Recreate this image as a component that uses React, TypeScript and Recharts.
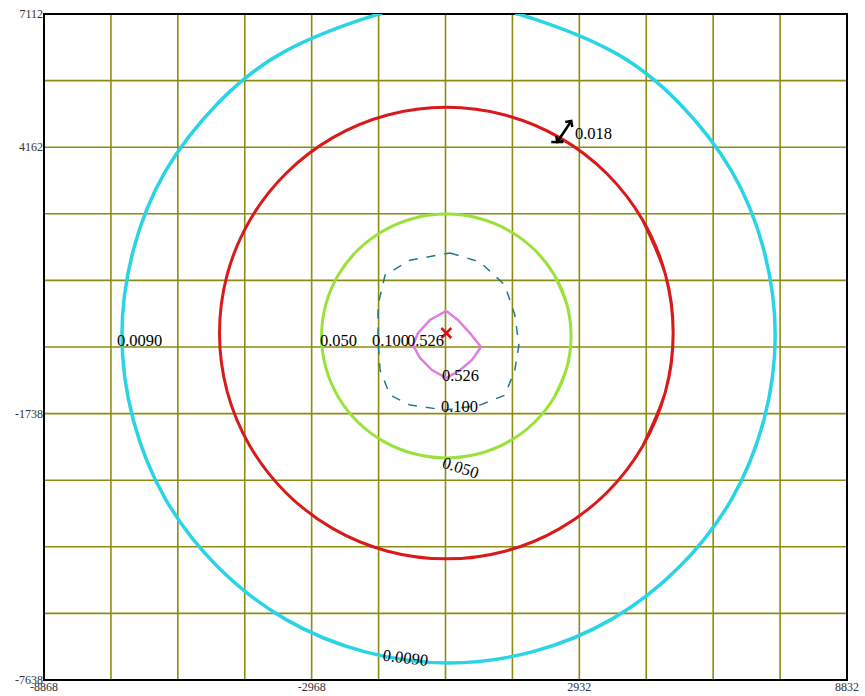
import React from 'react';
import { ComposedChart, Scatter, Line, XAxis, YAxis, CartesianGrid, ReferenceArea } from 'recharts';

// axis ticks (grid every 1475 units)
const xTicks = [-8868, -7393, -5918, -4443, -2968, -1493, -18, 1457, 2932, 4407, 5882, 7357, 8832];
const xLabeled = [-8868, -2968, 2932, 8832];
const yTicks = [-7638, -6163, -4688, -3213, -1738, -263, 1212, 2687, 4162, 5637, 7112];
const yLabeled = [7112, 4162, -1738, -7638];

// contour 0.0090 (open at the top edge)
const cyanContour = [
  { x: -1400, y: 7112 }, { x: -1810, y: 7010 }, { x: -3550, y: 6290 }, { x: -5040, y: 5130 },
  { x: -6190, y: 3630 }, { x: -6900, y: 1880 }, { x: -7150, y: 0 }, { x: -6900, y: -1880 },
  { x: -6190, y: -3630 }, { x: -5040, y: -5130 }, { x: -3550, y: -6290 }, { x: -1810, y: -7010 },
  { x: 50, y: -7260 }, { x: 1910, y: -7010 }, { x: 3650, y: -6290 }, { x: 5140, y: -5130 },
  { x: 6290, y: -3630 }, { x: 7000, y: -1880 }, { x: 7250, y: 0 }, { x: 7000, y: 1880 },
  { x: 6290, y: 3630 }, { x: 5140, y: 5130 }, { x: 3650, y: 6290 }, { x: 1910, y: 7010 },
  { x: 1500, y: 7112 },
];

// contour 0.018 (closed; the first points are repeated at the end)
const redContour = [
  { x: 4330, y: -2455 }, { x: 4830, y: -1250 },
  { x: 5000, y: 45 }, { x: 4830, y: 1340 }, { x: 4330, y: 2545 }, { x: 3536, y: 3580 },
  { x: 2500, y: 4375 }, { x: 1294, y: 4875 }, { x: 0, y: 5045 }, { x: -1294, y: 4875 },
  { x: -2500, y: 4375 }, { x: -3536, y: 3580 }, { x: -4330, y: 2545 }, { x: -4830, y: 1340 },
  { x: -5000, y: 45 }, { x: -4830, y: -1250 }, { x: -4330, y: -2455 }, { x: -3536, y: -3490 },
  { x: -2500, y: -4285 }, { x: -1294, y: -4785 }, { x: 0, y: -4955 }, { x: 1294, y: -4785 },
  { x: 2500, y: -4285 }, { x: 3536, y: -3490 }, { x: 4330, y: -2455 }, { x: 4830, y: -1250 },
  { x: 5000, y: 45 }, { x: 4830, y: 1340 }, { x: 4330, y: 2545 },
];

// contour 0.050 (closed; the first points are repeated at the end)
const greenContour = [
  { x: 2382, y: -1370 }, { x: 2656, y: -720 },
  { x: 2750, y: -20 }, { x: 2656, y: 680 }, { x: 2382, y: 1330 }, { x: 1945, y: 1890 },
  { x: 1375, y: 2318 }, { x: 712, y: 2588 }, { x: 0, y: 2680 }, { x: -712, y: 2588 },
  { x: -1375, y: 2318 }, { x: -1945, y: 1890 }, { x: -2382, y: 1330 }, { x: -2656, y: 680 },
  { x: -2750, y: -20 }, { x: -2656, y: -720 }, { x: -2382, y: -1370 }, { x: -1945, y: -1930 },
  { x: -1375, y: -2358 }, { x: -712, y: -2628 }, { x: 0, y: -2720 }, { x: 712, y: -2628 },
  { x: 1375, y: -2358 }, { x: 1945, y: -1930 }, { x: 2382, y: -1370 }, { x: 2656, y: -720 },
  { x: 2750, y: -20 }, { x: 2656, y: 680 }, { x: 2382, y: 1330 },
];

// contour 0.100 (dashed)
const dashedContour = [
  { x: 80, y: 1820 }, { x: 740, y: 1620 }, { x: 1290, y: 1110 }, { x: 1510, y: 445 },
  { x: 1600, y: -220 }, { x: 1510, y: -775 }, { x: 1290, y: -1330 }, { x: 740, y: -1550 },
  { x: -30, y: -1660 }, { x: -800, y: -1550 }, { x: -1240, y: -1330 }, { x: -1460, y: -775 },
  { x: -1505, y: -110 }, { x: -1505, y: 665 }, { x: -1350, y: 1330 }, { x: -800, y: 1660 },
  { x: 80, y: 1820 },
];

// contour 0.526
const pinkContour = [
  { x: 0, y: 535 }, { x: -360, y: 335 }, { x: -625, y: 45 }, { x: -735, y: -220 },
  { x: -580, y: -505 }, { x: -315, y: -775 }, { x: 0, y: -950 }, { x: 300, y: -775 },
  { x: 565, y: -550 }, { x: 765, y: -265 }, { x: 520, y: 45 }, { x: 255, y: 335 },
  { x: 0, y: 535 },
];

const sourcePoint = [{ x: 0, y: 47 }];
const arrowPoint = [{ x: 2600, y: 4520 }];

const contourLabels = [
  { x: -7259, y: -108, text: '0.0090' },
  { x: -2785, y: -108, text: '0.050' },
  { x: -1639, y: -108, text: '0.100' },
  { x: -867, y: -108, text: '0.526' },
  { x: -96, y: -884, text: '0.526' },
  { x: -118, y: -1570, text: '0.100' },
  { x: -74, y: -2810, text: '0.050' },
  { x: -1396, y: -7085, text: '0.0090' },
  { x: 2836, y: 4476, text: '0.018' },
];
const labelRotation = [0, 0, 0, 0, 0, 0, 18, 7, 0];

const LabelShape = (props: any) => {
  const { cx, cy, payload, index } = props;
  const a = labelRotation[index] || 0;
  return (
    <text
      x={cx}
      y={cy}
      dominantBaseline="central"
      fontFamily="'Liberation Serif', serif"
      fontSize={16.5}
      fill="#000"
      transform={a ? `rotate(${a} ${cx} ${cy})` : undefined}
    >
      {payload.text}
    </text>
  );
};

const CrossShape = (props: any) => {
  const { cx, cy } = props;
  return (
    <g stroke="#e01010" strokeWidth={2.5}>
      <line x1={cx - 5} y1={cy - 5} x2={cx + 5} y2={cy + 5} />
      <line x1={cx - 5} y1={cy + 5} x2={cx + 5} y2={cy - 5} />
    </g>
  );
};

const ArrowShape = (props: any) => {
  const { cx, cy } = props;
  const x1 = cx - 7, y1 = cy + 11, x2 = cx + 7, y2 = cy - 10;
  return (
    <g stroke="#000" strokeWidth={2.5} fill="none">
      <line x1={x1} y1={y1} x2={x2} y2={y2} />
      <polyline points={`${x2 - 6},${y2 + 1} ${x2},${y2} ${x2 + 1},${y2 + 6}`} />
      <line x1={x1 - 6} y1={y1} x2={x1 + 6} y2={y1} />
      <polyline points={`${x1 - 1},${y1 - 6} ${x1},${y1} ${x1 + 6},${y1 - 1}`} />
    </g>
  );
};

const tickStyle = { fontSize: 12, fill: '#333', fontFamily: "'Liberation Serif', serif" };

export default function App() {
  return (
    <div style={{ position: 'absolute', left: 0, top: 0, width: 865, height: 696, background: '#fff' }}>
      <ComposedChart width={865} height={696} margin={{ top: 14, right: 18, bottom: 0, left: 0 }}>
        <CartesianGrid stroke="#8c8c10" strokeWidth={1.6} />
        <XAxis
          type="number"
          dataKey="x"
          domain={[-8868, 8832]}
          ticks={xTicks}
          interval={0}
          allowDataOverflow
          height={16}
          axisLine={false}
          tickLine={false}
          tickSize={0}
          tickMargin={2}
          tick={tickStyle}
          tickFormatter={(v) => (xLabeled.includes(v) ? String(v) : '')}
        />
        <YAxis
          type="number"
          dataKey="y"
          domain={[-7638, 7112]}
          ticks={yTicks}
          interval={0}
          allowDataOverflow
          width={44}
          axisLine={false}
          tickLine={false}
          tickSize={0}
          tickMargin={1}
          tick={tickStyle}
          tickFormatter={(v) => (yLabeled.includes(v) ? String(v) : '')}
        />
        <Line data={cyanContour} dataKey="y" type="natural" stroke="#2ad4e4" strokeWidth={3.5} dot={false} activeDot={false} isAnimationActive={false} />
        <Line data={redContour} dataKey="y" type="natural" stroke="#d81a1a" strokeWidth={3} dot={false} activeDot={false} isAnimationActive={false} />
        <Line data={greenContour} dataKey="y" type="natural" stroke="#9ae23a" strokeWidth={3} dot={false} activeDot={false} isAnimationActive={false} />
        <Line data={dashedContour} dataKey="y" type="linear" stroke="#1f7a8c" strokeWidth={1.5} strokeDasharray="9 9" dot={false} activeDot={false} isAnimationActive={false} />
        <Line data={pinkContour} dataKey="y" type="linear" stroke="#e27ce2" strokeWidth={2.5} dot={false} activeDot={false} isAnimationActive={false} />
        <Scatter data={sourcePoint} shape={CrossShape} isAnimationActive={false} />
        <Scatter data={arrowPoint} shape={ArrowShape} isAnimationActive={false} />
        <Scatter data={contourLabels} shape={LabelShape} isAnimationActive={false} />
        <ReferenceArea x1={-8868} x2={8832} y1={-7638} y2={7112} fill="none" stroke="#000" strokeWidth={2} ifOverflow="visible" />
      </ComposedChart>
    </div>
  );
}
